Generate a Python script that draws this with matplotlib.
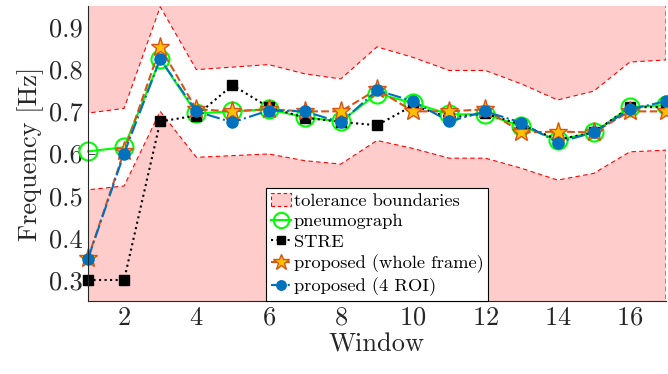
import numpy as np
import matplotlib
matplotlib.use('Agg')
from matplotlib import pyplot as plt

plt.rcParams['font.family'] = 'serif'
plt.rcParams['font.serif'] = ['cmr10']
plt.rcParams['mathtext.fontset'] = 'cm'
plt.rcParams['axes.formatter.use_mathtext'] = True

# window index
windows = list(range(1, 18))

# reference (pneumograph) and tolerance band
pneumograph = [0.605, 0.615, 0.824, 0.695, 0.700, 0.705, 0.686, 0.676, 0.742,
               0.720, 0.693, 0.693, 0.665, 0.632, 0.650, 0.710, 0.715]
tol_upper = [0.696, 0.707, 0.948, 0.799, 0.805, 0.811, 0.789, 0.777, 0.853,
             0.828, 0.797, 0.797, 0.765, 0.727, 0.748, 0.817, 0.822]
tol_lower = [0.514, 0.523, 0.700, 0.591, 0.595, 0.599, 0.583, 0.575, 0.631,
             0.612, 0.589, 0.589, 0.565, 0.537, 0.553, 0.604, 0.608]

stre = [0.300, 0.300, 0.676, 0.690, 0.762, 0.710, 0.685, 0.675, 0.667,
        0.714, 0.685, 0.695, 0.668, 0.633, 0.650, 0.710, 0.710]
whole_frame = [0.352, 0.605, 0.852, 0.705, 0.700, 0.705, 0.700, 0.700, 0.752,
               0.700, 0.700, 0.705, 0.650, 0.652, 0.650, 0.700, 0.700]
roi4 = [0.350, 0.600, 0.824, 0.700, 0.674, 0.702, 0.700, 0.674, 0.750,
        0.724, 0.676, 0.700, 0.673, 0.626, 0.650, 0.705, 0.724]

pink = (1.0, 0.8, 0.8)
orange = '#D95319'
blue = '#0072BD'
dark = '#262626'

fig = plt.figure(figsize=(6.68, 3.74), dpi=100)
ax = fig.add_axes([0.1317, 0.195, 0.8653, 0.789])

# tolerance band: shaded outside the band
ax.fill_between(windows, tol_upper, 1.5, facecolor=pink, edgecolor='r',
                linestyle=(0, (4, 3)), linewidth=0.8, label='tolerance boundaries')
ax.fill_between(windows, 0.0, tol_lower, facecolor=pink, edgecolor='r',
                linestyle=(0, (4, 3)), linewidth=0.8)

ax.plot(windows, pneumograph, '-o', color=(0, 1, 0), lw=1.5, ms=13,
        mfc='none', mew=1.5, label='pneumograph', clip_on=False)
ax.plot(windows, stre, ':s', color='k', lw=1.5, ms=7, mfc='k',
        label='STRE', clip_on=False)
ax.plot(windows, whole_frame, '--*', color=orange, lw=1.5, ms=14,
        mfc='#FFC000', mec=orange, mew=1.0,
        label='proposed (whole frame)', clip_on=False)
ax.plot(windows, roi4, '-.o', color=blue, lw=1.5, ms=8, mfc=blue, mec=blue,
        label='proposed (4 ROI)', clip_on=False)

ax.set_xlim(1, 17)
ax.set_ylim(0.25, 0.95)
ax.set_xticks(np.arange(2, 17, 2))
ax.set_yticks([0.3, 0.4, 0.5, 0.6, 0.7, 0.8, 0.9])
ax.set_yticklabels(['0.3', '0.4', '0.5', '0.6', '0.7', '0.8', '0.9'])
ax.tick_params(direction='in', length=5, labelsize=19, colors=dark, width=0.6)
ax.spines['top'].set_visible(False)
ax.spines['right'].set_visible(False)
ax.spines['left'].set_color(dark)
ax.spines['bottom'].set_color(dark)
ax.set_axisbelow(True)

ax.set_xlabel('Window', fontsize=19, color=dark, labelpad=2)
ax.set_ylabel('Frequency [Hz]', fontsize=19, color=dark, labelpad=4)

leg = ax.legend(loc='lower center', fontsize=13.3, fancybox=False,
                framealpha=1, edgecolor='k', borderaxespad=0,
                handlelength=1.1, handletextpad=0.15, borderpad=0.25,
                labelspacing=0.25, markerscale=0.85)
leg.get_frame().set_linewidth(0.8)

fig.savefig('out.png', dpi=100)
